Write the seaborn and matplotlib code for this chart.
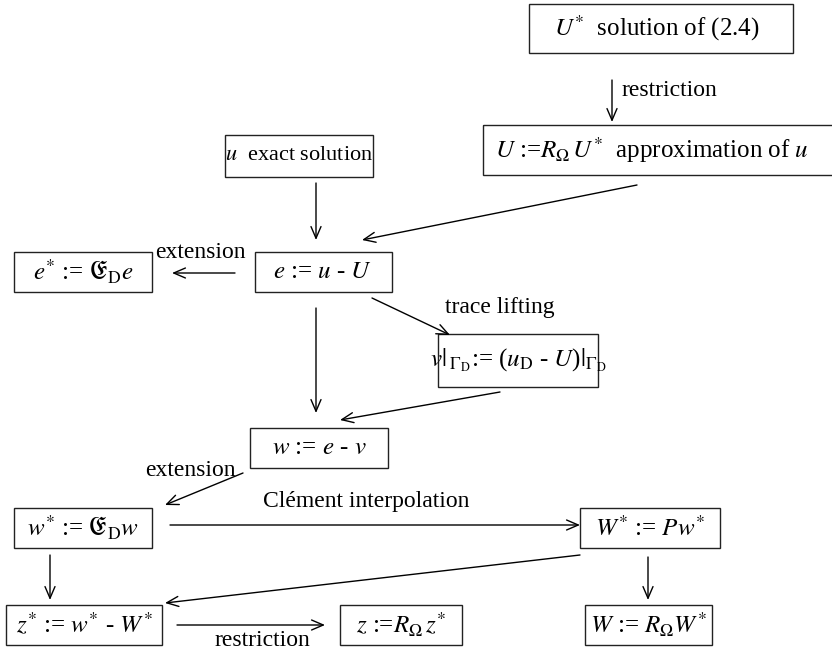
import matplotlib
matplotlib.use("Agg")
import matplotlib.pyplot as plt
from matplotlib.patches import Rectangle
import seaborn as sns

# ---- diagram content ----
node_labels = [
    r"$U^{*}$  solution of (2.4)",
    r"$U$ :=$R_{\Omega}\, U^{*}$  approximation of $u$",
    r"$u$  exact solution",
    r"$e$ := $u$ - $U$",
    r"$e^{*}$ := $\mathfrak{E}_{\rm D} e$",
    r"$v|_{\;\Gamma_{\rm D}}$:= ($u_{\rm D}$ - $U$)$|_{\Gamma_{\rm D}}$",
    r"$w$ := $e$ - $v$",
    r"$w^{*}$ := $\mathfrak{E}_{\rm D} w$",
    r"$W^{*}$ := $P w^{*}$",
    r"$z^{*}$ := $w^{*}$ - $W^{*}$",
    r"$z$ :=$R_{\Omega}\, z^{*}$",
    r"$W$ := $R_{\Omega} W^{*}$",
]
# box extents in pixel coordinates (left, top, right, bottom)
box_left = [529, 483, 225, 255, 14, 438, 250, 14, 580, 6, 340, 585]
box_top = [4, 125, 135, 252, 252, 334, 428, 508, 508, 605, 605, 605]
box_right = [793, 836, 373, 392, 152, 598, 388, 152, 720, 162, 462, 712]
box_bottom = [53, 175, 177, 292, 292, 387, 468, 548, 548, 645, 645, 645]
text_cx = [657, 652, 299, 323, 83, 518, 319, 83, 650, 84, 401, 648]
text_size = [18, 18, 16, 18, 18, 18, 18, 18, 18, 18, 18, 18]

# arrows: start (x, y) -> end (x, y)
arrow_x0 = [612, 316, 637, 235, 372, 316, 500, 243, 170, 50, 648, 580, 177]
arrow_y0 = [80, 183, 185, 273, 298, 308, 392, 473, 525, 555, 557, 555, 625]
arrow_x1 = [612, 316, 362, 172, 450, 316, 340, 165, 580, 50, 648, 165, 325]
arrow_y1 = [122, 240, 240, 273, 335, 413, 420, 505, 525, 600, 600, 603, 625]

edge_labels = ["restriction", "extension", "trace lifting", "extension",
               "Clément interpolation", "restriction"]
edge_label_x = [622, 200, 500, 190, 366, 262]
edge_label_y = [90, 252, 308, 470, 501, 640]

# ---- drawing ----
sns.set_theme(style="white")
plt.rcParams["font.family"] = ["Liberation Serif", "DejaVu Serif"]
plt.rcParams["mathtext.fontset"] = "stix"

fig = plt.figure(figsize=(8.32, 6.51), dpi=100)
ax = fig.add_axes([0, 0, 1, 1])
ax.set_xlim(0, 832)
ax.set_ylim(651, 0)
ax.axis("off")

for lab, l, t, r, b, cx, fs in zip(node_labels, box_left, box_top, box_right,
                                   box_bottom, text_cx, text_size):
    ax.add_patch(Rectangle((l, t), r - l, b - t, fill=False, ec="#222222", lw=1.0))
    ax.text(cx, (t + b) / 2, lab, ha="center", va="center",
            fontsize=fs, color="black")

for x0, y0, x1, y1 in zip(arrow_x0, arrow_y0, arrow_x1, arrow_y1):
    ax.annotate("", xy=(x1, y1), xytext=(x0, y0),
                arrowprops=dict(arrowstyle="->,head_length=0.7,head_width=0.3",
                                color="black", lw=1.0, shrinkA=0, shrinkB=0))

for lab, x, y in zip(edge_labels, edge_label_x, edge_label_y):
    ha = "left" if lab == "restriction" and x > 600 else "center"
    ax.text(x, y, lab, ha=ha, va="center", fontsize=17, color="black")

fig.savefig("out.png", dpi=100, facecolor="white")
